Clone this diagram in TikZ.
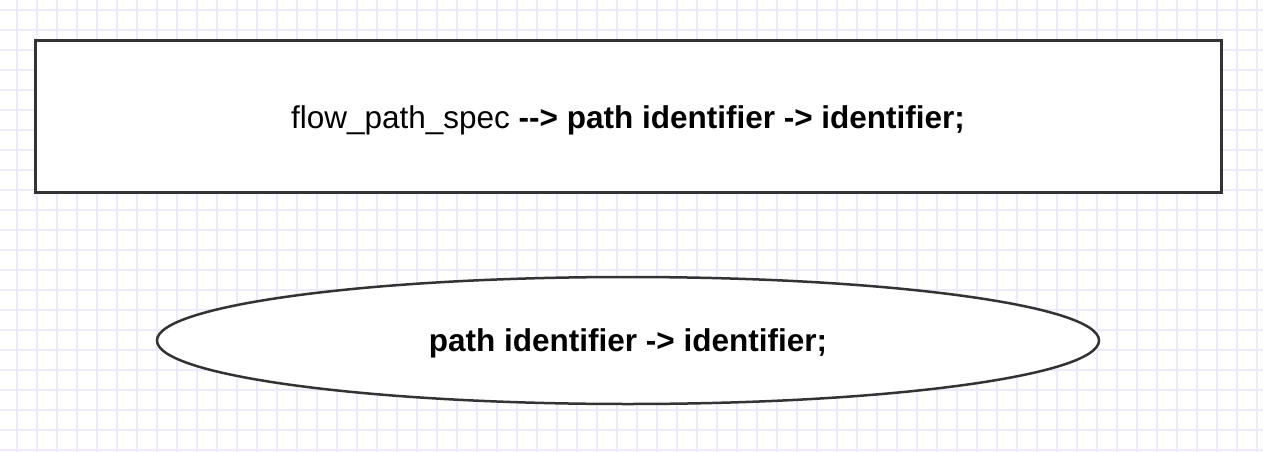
\documentclass[tikz,border=0pt]{standalone}
\usepackage{fontspec}
\setmainfont{Liberation Sans}
\usetikzlibrary{shapes.geometric}
\definecolor{gridc}{HTML}{EDEAFD}
\definecolor{strokec}{HTML}{333333}
\tikzset{
  gridline/.style={draw=gridc, line width=1.6pt},
  procbox/.style={draw=strokec, line width=3pt, fill=white, rectangle, minimum width=1186pt, minimum height=151pt, inner sep=0pt},
  termell/.style={draw=strokec, line width=2.5pt, fill=white, ellipse, minimum width=942pt, minimum height=127pt, inner sep=0pt},
  lbl/.style={font=\fontsize{31.5}{36}\selectfont}
}
\begin{document}
\begin{tikzpicture}[x=1pt,y=-1pt]
\useasboundingbox (0,0) rectangle (1263,452);
\fill[white] (0,0) rectangle (1263,452);
\foreach \gx in {17,37,...,1257} { \draw[gridline] (\gx,0) -- (\gx,452); }
\foreach \gy in {10,30,...,450} { \draw[gridline] (0,\gy) -- (1263,\gy); }
\node[procbox, lbl, text height=27pt, text depth=4pt] (spec) at (628,116.5) {flow\_path\_spec \textbf{-{}-> path identifier -> identifier;}};
\node[termell, lbl, text height=25pt, text depth=4pt] (path) at (628,340.5) {\textbf{path identifier -> identifier;}};
\end{tikzpicture}
\end{document}
